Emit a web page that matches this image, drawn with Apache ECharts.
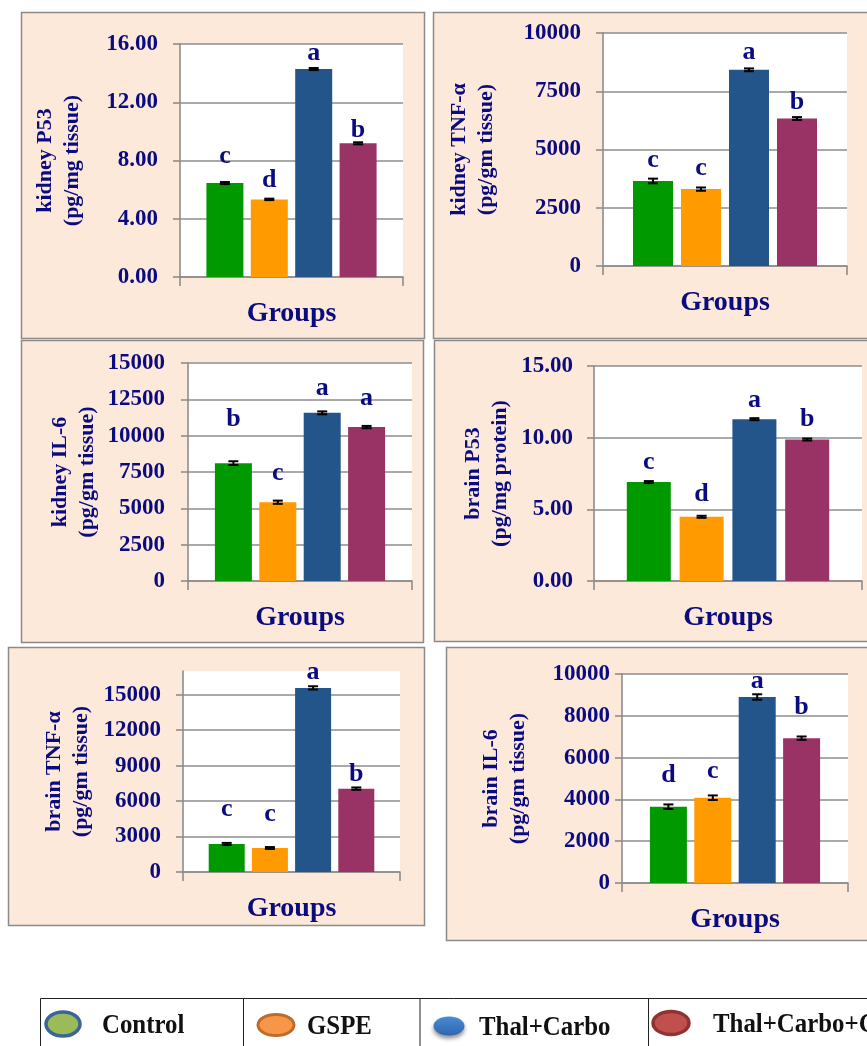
<!DOCTYPE html>
<html>
<head>
<meta charset="utf-8">
<script src="https://cdn.jsdelivr.net/npm/echarts@6/dist/echarts.min.js"></script>
<style>
  html, body { margin: 0; padding: 0; background: #ffffff; }
  #chart { width: 867px; height: 1046px; }
</style>
</head>
<body>
<div id="chart"></div>
<script>
// ---- data ---------------------------------------------------------------
const groups = ['Control', 'GSPE', 'Thal+Carbo', 'Thal+Carbo+GSPE'];
const xCategory = ['Groups'];

const kidneyP53 = [6.45, 5.33, 14.28, 9.18];
const kidneyP53Err = [0.07, 0.05, 0.07, 0.07];
const kidneyP53Letters = ['c', 'd', 'a', 'b'];

const kidneyTNF = [3650, 3300, 8420, 6330];
const kidneyTNFErr = [100, 70, 60, 60];
const kidneyTNFLetters = ['c', 'c', 'a', 'b'];

const kidneyIL6 = [8110, 5420, 11570, 10590];
const kidneyIL6Err = [130, 110, 100, 80];
const kidneyIL6Letters = ['b', 'c', 'a', 'a'];

const brainP53 = [6.90, 4.48, 11.29, 9.87];
const brainP53Err = [0.07, 0.07, 0.07, 0.07];
const brainP53Letters = ['c', 'd', 'a', 'b'];

const brainTNF = [2370, 2030, 15570, 7050];
const brainTNFErr = [90, 80, 140, 100];
const brainTNFLetters = ['c', 'c', 'a', 'b'];

const brainIL6 = [3650, 4080, 8900, 6930];
const brainIL6Err = [110, 110, 130, 80];
const brainIL6Letters = ['d', 'c', 'a', 'b'];

// ---- styling ------------------------------------------------------------
const SERIF = '"Liberation Serif", "Times New Roman", serif';
const NAVY = '#0b0b80';
const GRID_GREY = '#8c8c8c';
const PANEL_FILL = '#fde9d9';
const BAR_COLORS = ['#009a00', '#ff9a00', '#23548a', '#993366'];
const BAR_GAP = 0.2;

// panel layout: box = [x, y, w, h] of the framed panel, grid = plot rectangle,
// lift = pixel height of each significance letter above its bar top
const panels = [
  { name: 'kidney P53\n(pg/mg tissue)', values: kidneyP53, errors: kidneyP53Err, letters: kidneyP53Letters,
    min: 0, max: 16, interval: 4, decimals: 2,
    box: [21, 12, 403, 326], grid: [180, 44, 223, 233], barWidth: 37, nameGap: 94, labelMargin: 22,
    lift: [26.5, 19.3, 15.5, 13.3] },
  { name: 'kidney TNF-α\n(pg/gm tissue)', values: kidneyTNF, errors: kidneyTNFErr, letters: kidneyTNFLetters,
    min: 0, max: 10000, interval: 2500, decimals: 0,
    box: [433, 12, 440, 326], grid: [603, 33, 244, 233], barWidth: 40, nameGap: 103, labelMargin: 22,
    lift: [20.5, 21.1, 17.8, 16.7] },
  { name: 'kidney IL-6\n(pg/gm tissue)', values: kidneyIL6, errors: kidneyIL6Err, letters: kidneyIL6Letters,
    min: 0, max: 15000, interval: 2500, decimals: 0,
    box: [21, 340, 402, 302], grid: [188, 363, 224, 218], barWidth: 37, nameGap: 87, labelMargin: 23,
    lift: [43.6, 28.5, 24.8, 29.1] },
  { name: 'brain P53\n(pg/mg protein)', values: brainP53, errors: brainP53Err, letters: brainP53Letters,
    min: 0, max: 15, interval: 5, decimals: 2,
    box: [434, 340, 440, 301], grid: [594, 366, 268, 215], barWidth: 44, nameGap: 80, labelMargin: 21,
    lift: [19.5, 23, 19.2, 20.6] },
  { name: 'brain TNF-α\n(pg/gm tissue)', values: brainTNF, errors: brainTNFErr, letters: brainTNFLetters,
    min: 0, max: 17000, interval: 3000, decimals: 0, hideMax: true,
    box: [8, 647, 416, 278], grid: [183, 671, 217, 201], barWidth: 36, nameGap: 88, labelMargin: 22,
    lift: [34.5, 33.5, 15.8, 14.3] },
  { name: 'brain IL-6\n(pg/gm tissue)', values: brainIL6, errors: brainIL6Err, letters: brainIL6Letters,
    min: 0, max: 10000, interval: 2000, decimals: 0,
    box: [446, 647, 430, 293], grid: [622, 674, 226, 209], barWidth: 37, nameGap: 90, labelMargin: 12,
    lift: [31.4, 26.2, 15.8, 31.3] }
];

// legend cells: marker centre / radii, text start
const legendCells = [
  { cx: 63, cy: 1024, rx: 17, ry: 12, tx: 102, fill: '#9bbb59', stroke: '#3b6596', lw: 3.5 },
  { cx: 276, cy: 1025, rx: 18, ry: 10.5, tx: 307, fill: '#f79646', stroke: '#c06a28', lw: 3 },
  { cx: 449, cy: 1026, rx: 15.5, ry: 9.5, tx: 479, fill: '#3a7bc8', stroke: null, lw: 0 },
  { cx: 671, cy: 1023, rx: 18, ry: 11.5, tx: 713, fill: '#c0504d', stroke: '#8f3330', lw: 3.5 }
];
const legendBox = { left: 40.5, top: 998.5, dividers: [243.5, 420, 648.5] };

// ---- build option -------------------------------------------------------
const grids = [], xAxes = [], yAxes = [], series = [], graphics = [];

panels.forEach(function (p) {
  graphics.push({
    type: 'rect', z: -10,
    shape: { x: p.box[0] + 0.5, y: p.box[1] + 0.5, width: p.box[2], height: p.box[3] },
    style: { fill: PANEL_FILL, stroke: '#8a8a8a', lineWidth: 1.5 }
  });
});

panels.forEach(function (p, gi) {
  grids.push({
    left: p.grid[0], top: p.grid[1], width: p.grid[2], height: p.grid[3],
    show: true, backgroundColor: '#ffffff', borderWidth: 0, containLabel: false,
    outerBoundsMode: 'none'
  });
  xAxes.push({
    type: 'category', gridIndex: gi, data: xCategory,
    axisLine: { show: true, lineStyle: { color: GRID_GREY, width: 1.6 } },
    axisTick: { show: true, length: 9, interval: 0, lineStyle: { color: GRID_GREY, width: 1.6 } },
    axisLabel: {
      show: true, margin: 23, color: NAVY, fontFamily: SERIF, fontWeight: 'bold', fontSize: 28
    },
    splitLine: { show: false }
  });
  yAxes.push({
    type: 'value', gridIndex: gi, min: p.min, max: p.max, interval: p.interval,
    name: p.name, nameLocation: 'middle', nameRotate: 90, nameGap: p.nameGap,
    nameMoveOverlap: false,
    nameTextStyle: { color: NAVY, fontFamily: SERIF, fontWeight: 'bold', fontSize: 22, lineHeight: 27 },
    axisLine: { show: true, lineStyle: { color: GRID_GREY, width: 1.6 } },
    axisTick: { show: true, length: 7, lineStyle: { color: GRID_GREY, width: 1.6 } },
    axisLabel: {
      margin: p.labelMargin, color: NAVY, fontFamily: SERIF, fontWeight: 'bold', fontSize: 23,
      showMaxLabel: !p.hideMax,
      formatter: function (v) { return v.toFixed(p.decimals); }
    },
    splitLine: { show: true, showMaxLine: !p.hideMax, lineStyle: { color: GRID_GREY, width: 1.6 } }
  });

  groups.forEach(function (g, i) {
    series.push({
      type: 'bar', name: g, xAxisIndex: gi, yAxisIndex: gi,
      data: [p.values[i]],
      barWidth: p.barWidth, barGap: (BAR_GAP * 100) + '%',
      itemStyle: { color: BAR_COLORS[i] },
      silent: true, animation: false
    });
  });

  // error bars and significance letters, placed over each bar
  series.push({
    type: 'custom', xAxisIndex: gi, yAxisIndex: gi, z: 10, silent: true, animation: false,
    data: p.values.map(function (v, i) { return [0, v, p.errors[i], i]; }),
    encode: { x: 0, y: 1 },
    renderItem: function (params, api) {
      const i = api.value(3);
      const mean = api.value(1);
      const e = api.value(2);
      const base = api.coord([0, mean]);
      const x = base[0] + (i - 1.5) * p.barWidth * (1 + BAR_GAP);
      const hi = api.coord([0, mean + e])[1];
      const lo = api.coord([0, mean - e])[1];
      const cap = 5;
      const ls = { stroke: '#000000', lineWidth: 2 };
      return {
        type: 'group',
        children: [
          { type: 'line', shape: { x1: x, y1: hi, x2: x, y2: lo }, style: ls },
          { type: 'line', shape: { x1: x - cap, y1: hi, x2: x + cap, y2: hi }, style: ls },
          { type: 'line', shape: { x1: x - cap, y1: lo, x2: x + cap, y2: lo }, style: ls },
          {
            type: 'text', x: x, y: base[1] - p.lift[i],
            style: {
              text: p.letters[i], fill: NAVY, font: 'bold 26px ' + SERIF,
              align: 'center', verticalAlign: 'middle'
            }
          }
        ]
      };
    }
  });
});

// legend table beneath the panels
graphics.push({
  type: 'line', shape: { x1: legendBox.left, y1: legendBox.top, x2: 867, y2: legendBox.top },
  style: { stroke: '#222222', lineWidth: 1 }
});
[legendBox.left].concat(legendBox.dividers).forEach(function (x) {
  graphics.push({
    type: 'line', shape: { x1: x, y1: legendBox.top, x2: x, y2: 1046 },
    style: { stroke: '#222222', lineWidth: 1 }
  });
});
legendCells.forEach(function (c, i) {
  const markerStyle = { fill: c.fill };
  if (c.stroke) { markerStyle.stroke = c.stroke; markerStyle.lineWidth = c.lw; }
  if (!c.stroke) {
    markerStyle.fill = new echarts.graphic.LinearGradient(0, 0, 0, 1, [
      { offset: 0, color: '#4a8ad6' }, { offset: 1, color: '#2d66ad' }
    ]);
    markerStyle.shadowBlur = 4;
    markerStyle.shadowOffsetY = 3;
    markerStyle.shadowColor = 'rgba(0,0,0,0.45)';
  }
  graphics.push({
    type: 'ellipse', shape: { cx: c.cx, cy: c.cy, rx: c.rx, ry: c.ry }, style: markerStyle
  });
  graphics.push({
    type: 'text', x: c.tx, y: c.cy + 2, scaleX: 0.92,
    style: {
      text: groups[i], fill: '#111111', font: 'bold 27px ' + SERIF,
      align: 'left', verticalAlign: 'middle'
    }
  });
});

const chart = echarts.init(document.getElementById('chart'), null, { renderer: 'canvas' });
chart.setOption({
  animation: false,
  backgroundColor: '#ffffff',
  grid: grids,
  xAxis: xAxes,
  yAxis: yAxes,
  series: series,
  graphic: graphics
});
</script>
</body>
</html>
